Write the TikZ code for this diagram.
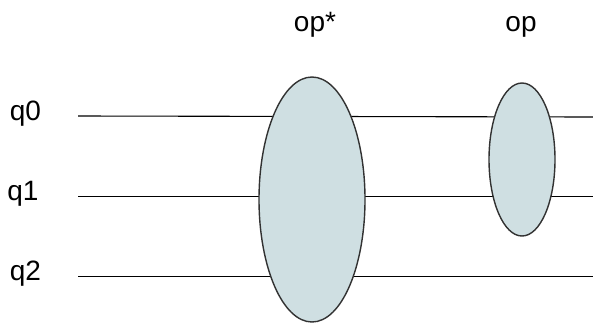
\documentclass[tikz,border=0pt]{standalone}
\usepackage{fontspec}
\setmainfont{Liberation Sans}
\usetikzlibrary{shapes.geometric}
\definecolor{opfill}{RGB}{207,223,226}
\definecolor{opdraw}{RGB}{50,50,50}
\tikzset{
  lbl/.style={inner sep=0pt, anchor=base, font=\fontsize{28}{30}\selectfont},
  wire/.style={line width=1.1pt, black},
  gate/.style={ellipse, draw=opdraw, fill=opfill, line width=1.4pt, inner sep=0pt},
}
\begin{document}
\begin{tikzpicture}[x=1pt,y=-1pt]
\useasboundingbox (0,0) rectangle (593,322);
% labels
\node[lbl] (q0) at (25.5,120) {q0};
\node[lbl] (q1) at (23,200) {q1};
\node[lbl] (q2) at (25.5,280) {q2};
\node[lbl] (opstar) at (315,31.5) {op*};
\node[lbl] (op) at (521,31.5) {op};
% wire ends
\coordinate (a0) at (78,116);
\coordinate (b0) at (593,117);
\coordinate (a1) at (78,196.5);
\coordinate (b1) at (593,196.5);
\coordinate (a2) at (78,276.5);
\coordinate (b2) at (593,276.5);
\draw[wire] (a0) -- (b0);
\draw[wire] (a1) -- (b1);
\draw[wire] (a2) -- (b2);
% gates
\node[gate, minimum width=106pt, minimum height=245pt] (g1) at (312,199.5) {};
\node[gate, minimum width=66pt, minimum height=153pt] (g2) at (522,159.5) {};
\end{tikzpicture}
\end{document}
